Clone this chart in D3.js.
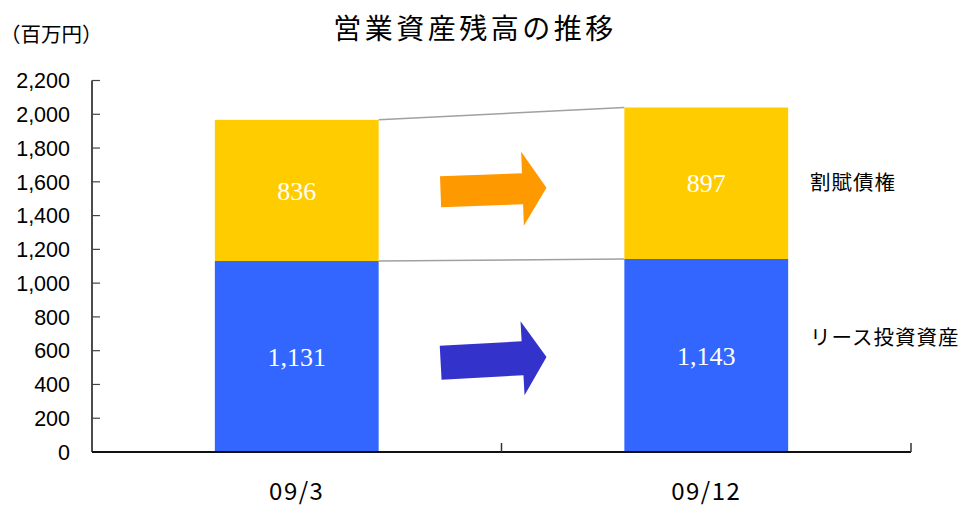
<!DOCTYPE html>
<html><head><meta charset="utf-8">
<script src="https://cdn.jsdelivr.net/npm/d3@7"></script>
<style>
html,body{margin:0;padding:0;background:#fff;}
svg{display:block;}
</style></head>
<body>
<svg id="chart" width="969" height="509"></svg>
<script>
const title = "営業資産残高の推移";
const unitLabel = "（百万円）";
const categories = ["09/3", "09/12"];
const seriesNames = ["リース投資資産", "割賦債権"];
const leaseValues = [1131, 1143];
const installmentValues = [836, 897];
const yTicks = [0, 200, 400, 600, 800, 1000, 1200, 1400, 1600, 1800, 2000, 2200];
const colors = ["#3366FF", "#FFCC00"];
const arrowColors = ["#3333CC", "#FF9900"];

const svg = d3.select("#chart");
const x0 = 92, x1 = 911, yBottom = 452, yTop = 80.5;

const x = d3.scaleBand().domain(categories).range([x0, x1]).paddingInner(0.6).paddingOuter(0.3);
const y = d3.scaleLinear().domain([0, 2200]).range([yBottom, yTop]);

const series = [leaseValues, installmentValues];
const stacked = categories.map((c, i) => {
  let base = 0;
  return series.map((s, k) => {
    const d = {cat: c, k, y0: base, y1: base + s[i], v: s[i]};
    base += s[i];
    return d;
  });
});

// connector lines
const conn = svg.append("g");
series.forEach((s, k) => {
  conn.append("line")
    .attr("x1", x(categories[0]) + x.bandwidth())
    .attr("y1", y(stacked[0][k].y1))
    .attr("x2", x(categories[1]))
    .attr("y2", y(stacked[1][k].y1))
    .attr("stroke", "#a0a0a0").attr("stroke-width", 1.5);
});

// bars
stacked.forEach(col => {
  svg.append("g").selectAll("rect").data(col).join("rect")
    .attr("x", d => x(d.cat))
    .attr("width", x.bandwidth())
    .attr("y", d => y(d.y1))
    .attr("height", d => y(d.y0) - y(d.y1))
    .attr("fill", d => colors[d.k]);
  svg.append("g").selectAll("text").data(col).join("text")
    .attr("x", d => x(d.cat) + x.bandwidth() / 2)
    .attr("y", d => y((d.y0 + d.y1) / 2))
    .attr("dy", "0.35em")
    .attr("text-anchor", "middle")
    .attr("fill", "#fff")
    .style("font-family", "'Liberation Serif','Times New Roman',serif")
    .style("font-size", "26px")
    .text(d => d3.format(",")(d.v));
});

// arrows between bars
const gapMid = (x(categories[0]) + x.bandwidth() + x(categories[1])) / 2;
series.forEach((s, k) => {
  const ym = (y((stacked[0][k].y0 + stacked[0][k].y1) / 2) + y((stacked[1][k].y0 + stacked[1][k].y1) / 2)) / 2;
  const L = 106, sh = k === 0 ? 34 : 31, hh = 74, hl = 24;
  const pts = [[0, -sh/2], [L - hl, -sh/2], [L - hl, -hh/2], [L, 0], [L - hl, hh/2], [L - hl, sh/2], [0, sh/2]];
  const ang = k === 0 ? -3.1 : -2.1;
  svg.append("path")
    .attr("d", "M" + pts.map(p => p.join(",")).join("L") + "Z")
    .attr("fill", arrowColors[k])
    .attr("transform", `translate(${gapMid - 8 + L/2},${ym + 1}) rotate(${ang}) translate(${-L},0)`);
});

// y axis
const ya = svg.append("g");
ya.append("line").attr("x1", x0).attr("x2", x0).attr("y1", yTop).attr("y2", yBottom)
  .attr("stroke", "#111").attr("stroke-width", 1.5);
ya.selectAll(".tk").data(yTicks).join("line")
  .attr("x1", x0).attr("x2", x0 + 8)
  .attr("y1", d => y(d)).attr("y2", d => y(d))
  .attr("stroke", "#444").attr("stroke-width", 1.2);
ya.selectAll("text").data(yTicks).join("text")
  .attr("x", 70).attr("y", d => y(d)).attr("dy", "0.36em")
  .attr("text-anchor", "end")
  .style("font-family", "'Liberation Sans',Arial,sans-serif")
  .style("font-size", "21.5px").attr("fill", "#000")
  .text(d => d3.format(",")(d));

// x axis
const xa = svg.append("g");
xa.append("line").attr("x1", x0).attr("x2", x1).attr("y1", yBottom).attr("y2", yBottom)
  .attr("stroke", "#111").attr("stroke-width", 2);
const bounds = [x0, x(categories[1]) - x.step() * x.paddingInner() / 2, x1];
xa.selectAll(".tk").data(bounds.slice(1)).join("line")
  .attr("x1", d => d).attr("x2", d => d)
  .attr("y1", yBottom).attr("y2", yBottom - 9)
  .attr("stroke", "#333").attr("stroke-width", 1.5);
xa.selectAll("text").data(categories).join("text")
  .attr("x", d => x(d) + x.bandwidth() / 2)
  .attr("y", 500)
  .attr("text-anchor", "middle")
  .style("font-family", "'Noto Sans CJK JP',sans-serif")
  .style("font-size", "24px").style("letter-spacing", "1.5px")
  .text(d => d);

// title & unit
svg.append("text").attr("x", 475).attr("y", 39).attr("text-anchor", "middle")
  .style("font-family", "'Noto Sans CJK JP',sans-serif")
  .style("font-size", "28px").style("letter-spacing", "3.5px")
  .text(title);
svg.append("text").attr("x", 0).attr("y", 42)
  .style("font-family", "'Noto Sans CJK JP',sans-serif")
  .style("font-size", "20.5px")
  .text(unitLabel);

// series labels on right
const lab = svg.append("g");
series.forEach((s, k) => {
  lab.append("text")
    .attr("x", 810)
    .attr("y", y((stacked[1][k].y0 + stacked[1][k].y1) / 2) + (k === 0 ? -18 : 0))
    .attr("dy", "0.35em")
    .style("font-family", "'Noto Sans CJK JP',sans-serif")
    .style("font-size", "20.5px").style("letter-spacing", "1px")
    .text(seriesNames[k]);
});
</script>
</body></html>
